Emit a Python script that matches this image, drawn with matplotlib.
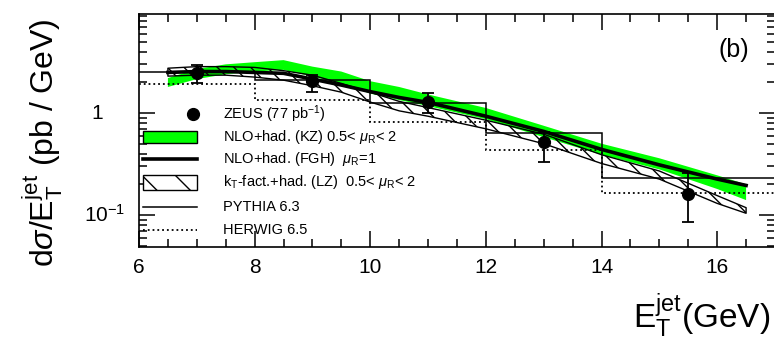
import numpy as np
import matplotlib
matplotlib.use("Agg")
import matplotlib.pyplot as plt
import matplotlib.transforms as mtransforms
from matplotlib.patches import Rectangle
from matplotlib.ticker import MultipleLocator, LogLocator, NullFormatter

plt.rcParams['font.family'] = ['Liberation Sans', 'DejaVu Sans']
plt.rcParams['mathtext.fontset'] = 'custom'
plt.rcParams['mathtext.rm'] = 'Liberation Sans'
plt.rcParams['mathtext.it'] = 'Liberation Sans:italic'
plt.rcParams['mathtext.bf'] = 'Liberation Sans:bold'
plt.rcParams['hatch.linewidth'] = 1.0

# --- ZEUS data (77 pb-1) ---
et_zeus = [7.0, 9.0, 11.0, 13.0, 15.5]
xs_zeus = [2.45, 2.07, 1.29, 0.516, 0.161]
xs_zeus_up = [2.95, 2.36, 1.56, 0.656, 0.256]
xs_zeus_lo = [1.95, 1.62, 0.99, 0.333, 0.086]

# --- MC histograms ---
bin_edges = [6, 8, 10, 12, 14, 17]
pythia = [2.53, 2.13, 1.24, 0.637, 0.23]
herwig = [1.91, 1.34, 0.81, 0.434, 0.163]

# --- theory curves ---
et_th = [6.5, 7.0, 7.5, 8.0, 8.5, 9.0, 9.5, 10.0, 10.5, 11.0, 12.0, 13.0, 14.0, 15.0, 16.0, 16.5]
kz_hi = [2.2, 2.7, 3.0, 3.15, 3.3, 2.85, 2.55, 2.05, 1.8, 1.52, 1.12, 0.75, 0.5, 0.36, 0.245, 0.2]
kz_lo = [1.8, 2.15, 2.4, 2.55, 2.65, 2.27, 1.95, 1.55, 1.34, 1.17, 0.87, 0.58, 0.39, 0.28, 0.18, 0.14]
fgh = [2.5, 2.55, 2.55, 2.5, 2.45, 2.15, 1.88, 1.62, 1.42, 1.27, 0.93, 0.66, 0.44, 0.31, 0.225, 0.195]
lz_hi = [2.75, 2.85, 2.85, 2.8, 2.6, 2.35, 1.95, 1.6, 1.3, 1.13, 0.85, 0.62, 0.39, 0.27, 0.155, 0.118]
lz_lo = [2.3, 2.35, 2.35, 2.25, 2.1, 1.85, 1.6, 1.28, 1.05, 0.93, 0.7, 0.5, 0.32, 0.225, 0.13, 0.104]

legend_labels = [r"ZEUS (77 pb$^{-1}$)",
                 r"NLO+had. (KZ) 0.5< $\mu_\mathrm{R}$< 2",
                 r"NLO+had. (FGH)  $\mu_\mathrm{R}$=1",
                 r"k$_\mathrm{T}$-fact.+had. (LZ)  0.5< $\mu_\mathrm{R}$< 2",
                 "PYTHIA 6.3",
                 "HERWIG 6.5"]

ytick_vals = [1.0, 0.1]
ytick_labels = ["1", r"$10^{-1}$"]

green = '#00ff00'

fig = plt.figure(figsize=(7.74, 3.42), dpi=100)
ax = fig.add_axes([139/774, 1-246.7/342, 636/774, 232.7/342])

ax.fill_between(et_th, kz_lo, kz_hi, facecolor=green, lw=0, zorder=1)
ax.fill_between(et_th, lz_lo, lz_hi, facecolor='none', edgecolor='k', hatch='\\\\', lw=1.0, zorder=2)
ax.stairs(pythia, bin_edges, baseline=None, color='k', lw=1.1, zorder=3)
ax.stairs(herwig, bin_edges, baseline=None, color='k', lw=1.3, ls=':', zorder=3)
ax.plot(et_th, fgh, color='k', lw=2.6, zorder=4)

yerr = [np.array(xs_zeus) - np.array(xs_zeus_lo), np.array(xs_zeus_up) - np.array(xs_zeus)]
ax.errorbar(et_zeus, xs_zeus, yerr=yerr, fmt='o', color='k', ms=8.5, capsize=4.5,
            elinewidth=1.3, capthick=1.3, zorder=5)

ax.set_yscale('log')
ax.set_xlim(6, 17)
ax.set_ylim(0.0489, 9.35)
ax.set_xticks([6, 8, 10, 12, 14, 16])
ax.xaxis.set_minor_locator(MultipleLocator(0.5))
ax.yaxis.set_major_locator(LogLocator(base=10, numticks=10))
ax.yaxis.set_minor_locator(LogLocator(base=10, subs=np.arange(2, 10), numticks=20))
ax.yaxis.set_major_formatter(NullFormatter())
ax.yaxis.set_minor_formatter(NullFormatter())
ax.tick_params(which='both', direction='in', top=True, right=True, width=1.1)
ax.tick_params(which='major', length=11.5, labelsize=15, pad=8)
ax.tick_params(which='minor', length=5.8)
for s in ax.spines.values():
    s.set_linewidth(1.2)

# y tick labels placed by hand (ROOT style offsets)
blend = mtransforms.blended_transform_factory(ax.transAxes, ax.transData)
ax.text(-0.057, ytick_vals[0], ytick_labels[0], transform=blend, ha='right', va='center', fontsize=15)
ax.text(-0.022, ytick_vals[1], ytick_labels[1], transform=blend, ha='right', va='center', fontsize=15)

# legend drawn by hand
rows = [0.570, 0.471, 0.375, 0.276, 0.172, 0.070]
hx0, hx1 = 0.0063, 0.0912
ta = ax.transAxes
ax.plot([0.085], [rows[0]], 'o', color='k', ms=8.5, transform=ta, clip_on=False, zorder=6)
ax.add_patch(Rectangle((hx0, rows[1]-0.026), hx1-hx0, 0.052, facecolor=green, edgecolor='k',
                       lw=1.0, transform=ta, zorder=6))
ax.plot([hx0, hx1], [rows[2], rows[2]], color='k', lw=2.6, transform=ta, zorder=6)
ax.add_patch(Rectangle((hx0, rows[3]-0.032), hx1-hx0, 0.064, facecolor='white', edgecolor='k',
                       hatch='\\', lw=1.0, transform=ta, zorder=6))
ax.plot([hx0, hx1], [rows[4], rows[4]], color='k', lw=1.1, transform=ta, zorder=6)
ax.plot([hx0, hx1], [rows[5], rows[5]], color='k', lw=1.3, ls=':', transform=ta, zorder=6)
for r, lab in zip(rows, legend_labels):
    ax.text(0.132, r, lab, transform=ta, va='center', ha='left', fontsize=10.5, zorder=7)

ax.text(734/774, 1-50/342, "(b)", transform=fig.transFigure, ha='center', va='center', fontsize=18)

fig.text(770/774, 1-328/342, r"E$_\mathrm{T}^\mathrm{jet}$(GeV)", ha='right', va='baseline', fontsize=24)
fig.text(43/774, 1-142.5/342, r"d$\sigma$/E$_\mathrm{T}^\mathrm{jet}$ (pb / GeV)", rotation=90,
         ha='center', va='center', fontsize=23)

fig.savefig("out.png", dpi=100, facecolor='white')
